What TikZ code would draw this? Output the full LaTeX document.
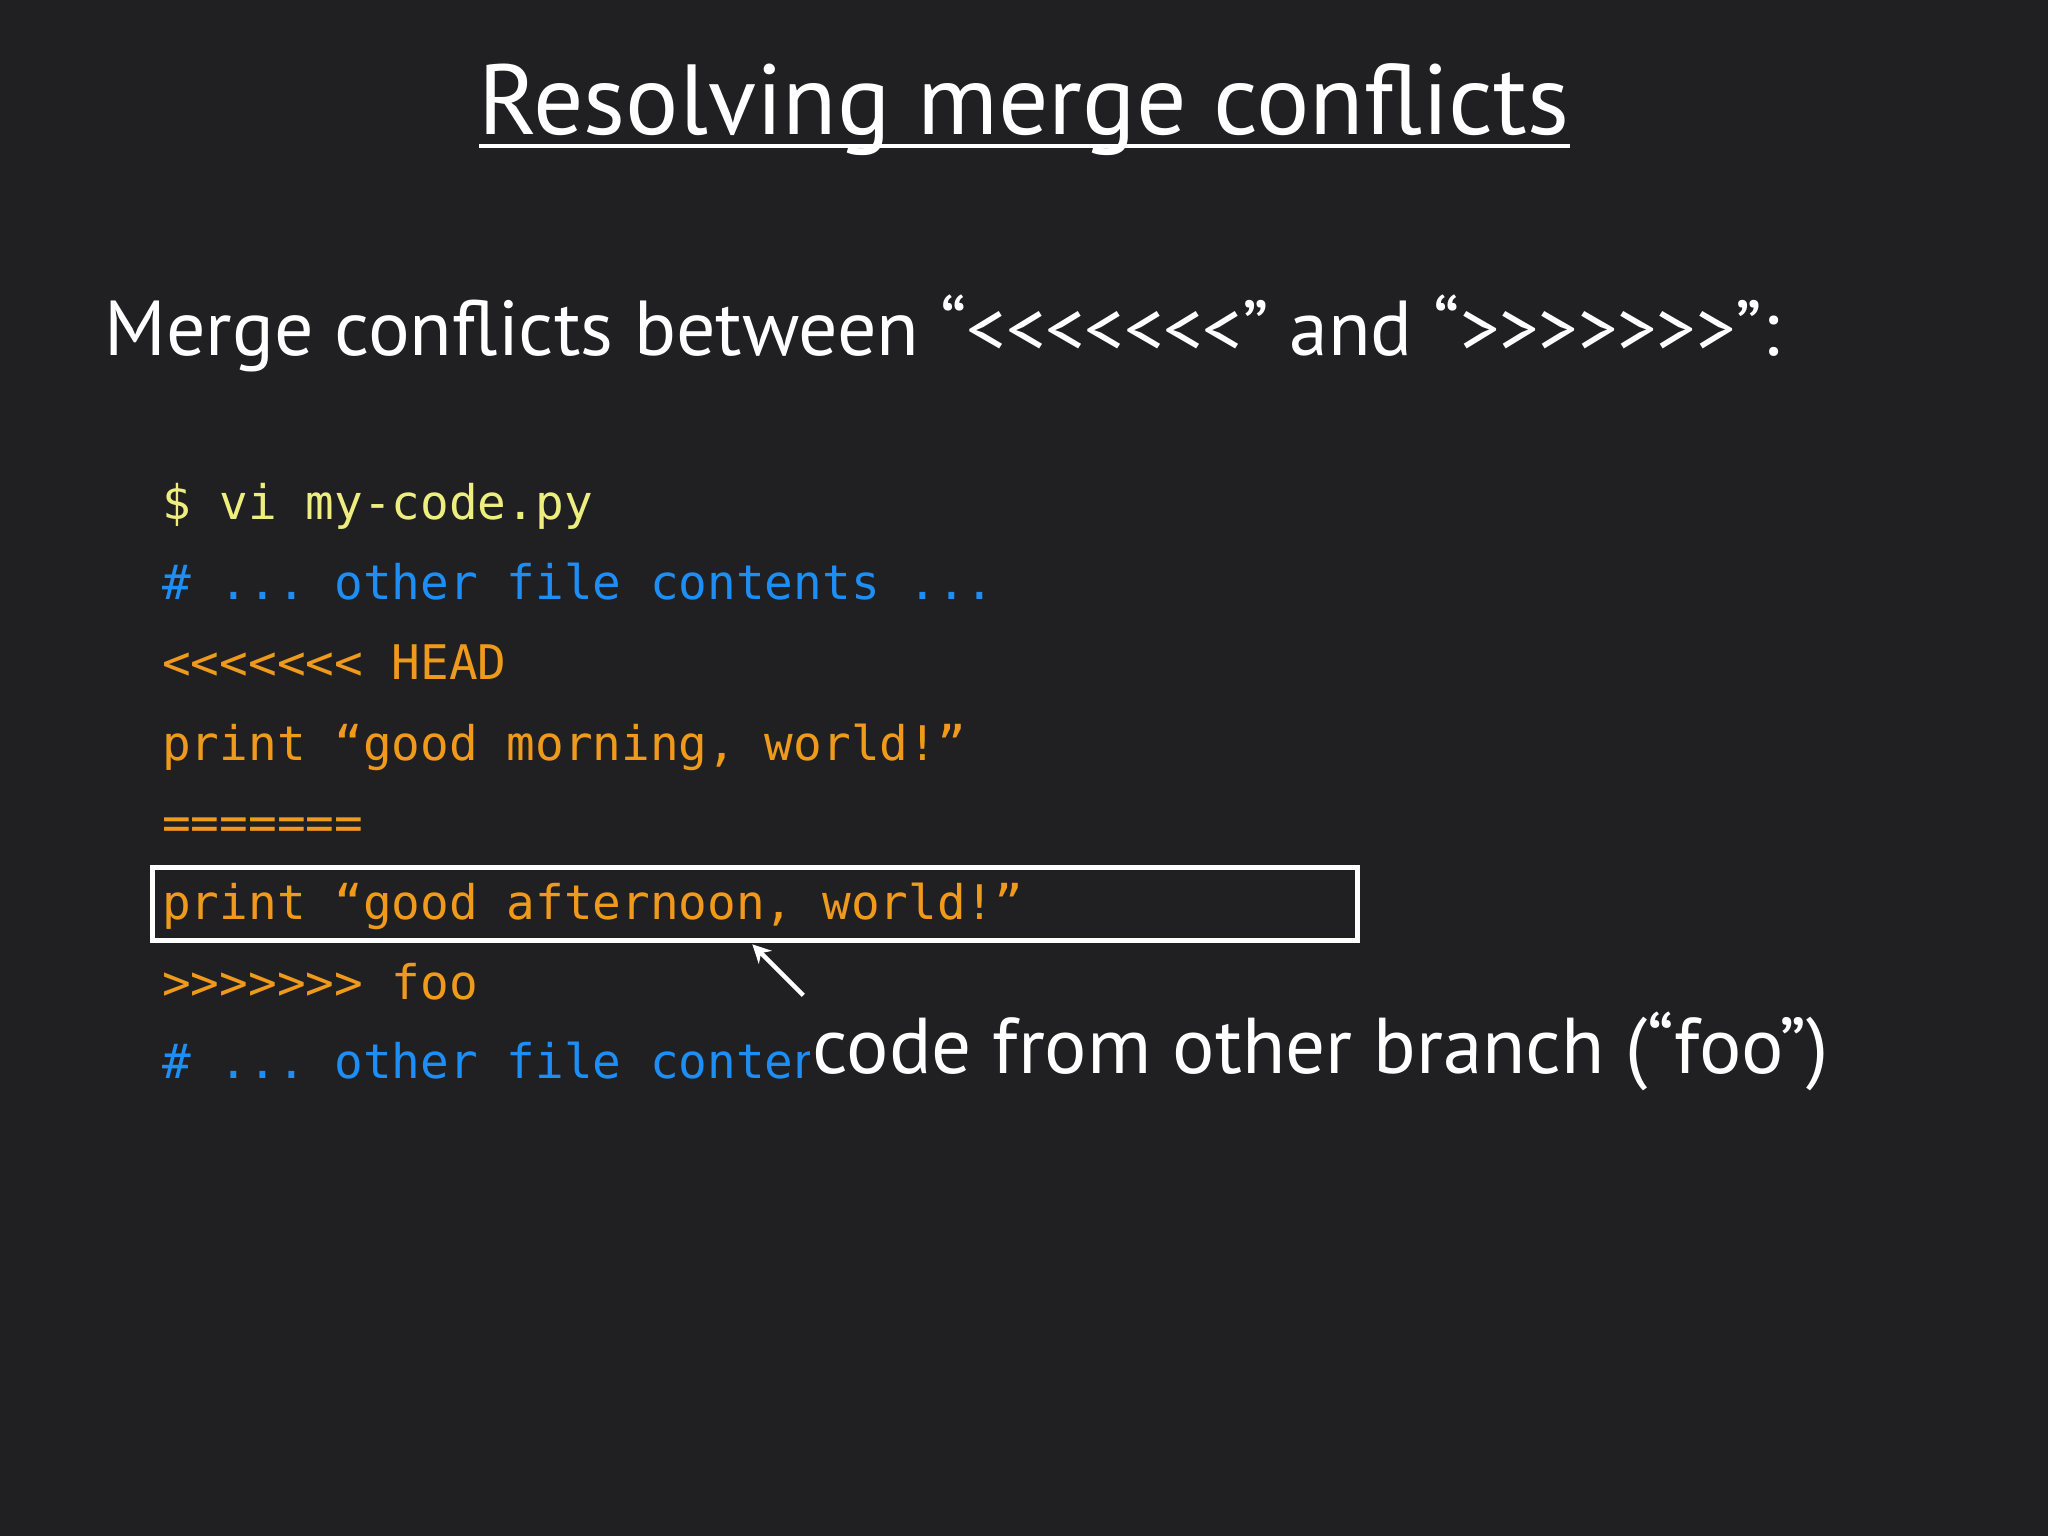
\documentclass[tikz,border=0pt]{standalone}
\usepackage{fontspec}
\usepackage{graphicx}
\usetikzlibrary{arrows.meta}
\newfontfamily\mf{PT Sans}
\setmonofont{DejaVu Sans Mono}
\definecolor{bg}{HTML}{202023}
\definecolor{cy}{HTML}{EEEE80}
\definecolor{cb}{HTML}{1C8EF5}
\definecolor{co}{HTML}{F09A1C}
\begin{document}
\begin{tikzpicture}[x=1pt,y=-1pt,
 code/.style={anchor=base west,inner sep=0pt,font=\fontsize{36.5}{40}\ttfamily},
 every node/.style={inner sep=0pt}]
\fill[bg] (0,0) rectangle (1568,1176);
\useasboundingbox (0,0) rectangle (1568,1176);
\node[anchor=base,text=white,font=\fontsize{78}{90}\mf] (title) at (784,103) {\resizebox{835pt}{!}{Resolving merge conflicts}};
\draw[white,line width=3pt] (367,112) -- (1202,112);
\node[anchor=base west,text=white,font=\fontsize{58}{66}\mf] (sub) at (80,272) {\resizebox{1282pt}{!}{Merge conflicts between “<<<<<<<” and “>>>>>>>”:}};
\node[code,text=cy] (l1) at (124,398) {\$ vi my-code.py};
\node[code,text=cb] (l2) at (124,459) {\# ... other file contents ...};
\node[code,text=co] (l3) at (124,520) {<<<<<<< HEAD};
\node[code,text=co] (l4) at (124,582) {print “good morning, world!”};
\node[code,text=co] (l5) at (124,643) {=======};
\node[code,text=co] (l6) at (124,704) {print “good afternoon, world!”};
\node[code,text=co] (l7) at (124,765) {>>>>>>> foo};
\node[code,text=cb] (l8) at (124,826) {\# ... other file contents ...};
\node[draw=white,line width=4pt,minimum width=923pt,minimum height=56pt,anchor=north west] (box) at (114.5,662) {};
\node[anchor=base west,fill=bg,text=white,inner xsep=2pt,inner ysep=8pt,font=\fontsize{56}{60}\mf] (lab) at (620,822) {\resizebox{778pt}{!}{code from other branch (“foo”)}};
\coordinate (as) at (615,762);
\draw[white,line width=3.5pt,-{Stealth[length=14pt,width=14pt]}] (as) -- (576,723);
\end{tikzpicture}
\end{document}
